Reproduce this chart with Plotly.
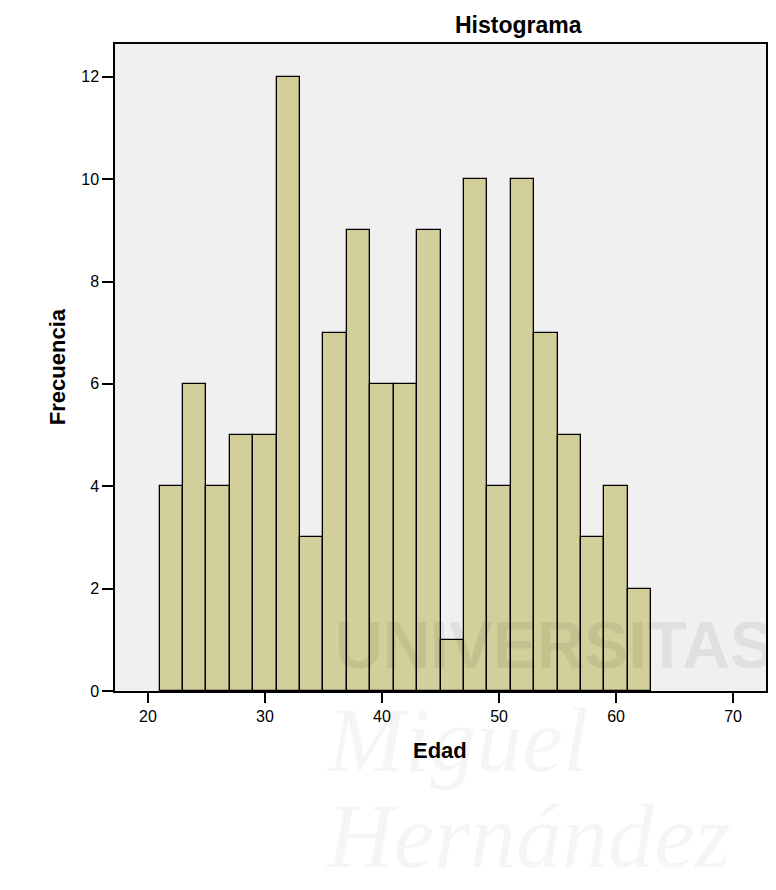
import plotly.graph_objects as go

# Histogram data (Edad), bins of width 2 starting at 21
bin_left = [21, 23, 25, 27, 29, 31, 33, 35, 37, 39, 41, 43, 45, 47, 49, 51, 53, 55, 57, 59, 61]
bin_width = 2
counts = [4, 6, 4, 5, 5, 12, 3, 7, 9, 6, 6, 9, 1, 10, 4, 10, 7, 5, 3, 4, 2]

x_ticks = [20, 30, 40, 50, 60, 70]
y_ticks = [0, 2, 4, 6, 8, 10, 12]

centers = [b + bin_width / 2 for b in bin_left]

fig = go.Figure()
fig.add_trace(go.Bar(
    x=centers, y=counts, width=[bin_width] * len(counts),
    marker=dict(color="#d3cf9a", line=dict(color="#000000", width=1.3)),
    hoverinfo="x+y", showlegend=False,
))

font_main = "Liberation Sans, Arial, sans-serif"

# page has an 8px body margin; compensate so the plot lands where the reference has it
OFF = 8
W, H = 776 - OFF, 890 - OFF
l, r, t, b = 115 - OFF, 8, 44 - OFF, 199
pw, ph = W - l - r, H - t - b

fig.update_layout(
    width=W, height=H,
    margin=dict(l=l, r=r, t=t, b=b),
    paper_bgcolor="#ffffff",
    plot_bgcolor="#f0f0f0",
    bargap=0,
    font=dict(family=font_main, color="#000000"),
    xaxis=dict(
        range=[17.19, 72.81], tickvals=x_ticks, ticktext=[str(v) for v in x_ticks],
        ticks="outside", ticklen=10, tickwidth=1.5, tickcolor="#000",
        showline=True, linecolor="#000", linewidth=1.5, mirror=True,
        showgrid=False, zeroline=False, tickfont=dict(size=16, family=font_main),
    ),
    yaxis=dict(
        range=[0, 12.64], tickvals=y_ticks, ticktext=[str(v) for v in y_ticks],
        ticks="outside", ticklen=11, tickwidth=1.5, tickcolor="#000",
        showline=True, linecolor="#000", linewidth=1.5, mirror=True,
        showgrid=False, zeroline=False, tickfont=dict(size=16, family=font_main),
    ),
)

# annotations placed by page pixel position (reference coordinates)
ann_specs = [
    dict(text="<b>Histograma</b>", px=520, py=25, xanchor="center",
         font=dict(size=23, family=font_main, color="#000")),
    dict(text="<b>Edad</b>", px=441, py=750, xanchor="center",
         font=dict(size=22, family=font_main, color="#000")),
    dict(text="<b>Frecuencia</b>", px=57, py=367, xanchor="center", textangle=-90,
         font=dict(size=22, family=font_main, color="#000")),
    # watermark
    dict(text="<b>UNIVERSITAS</b>", px=334, py=645, xanchor="left",
         font=dict(size=66, family="Liberation Sans Narrow, Arial Narrow, sans-serif",
                   color="rgba(0,0,0,0.065)")),
    dict(text="<i>Miguel</i>", px=325, py=740, xanchor="left",
         font=dict(size=92, family="Liberation Serif, Times New Roman, serif",
                   color="rgba(0,0,0,0.04)")),
    dict(text="<i>Hernández</i>", px=325, py=836, xanchor="left",
         font=dict(size=92, family="Liberation Serif, Times New Roman, serif",
                   color="rgba(0,0,0,0.04)")),
]
anns = []
for s in ann_specs:
    px, py = s.pop("px") - OFF, s.pop("py") - OFF
    s.update(xref="paper", yref="paper", showarrow=False, yanchor="middle",
             x=(px - l) / pw, y=(H - b - py) / ph)
    anns.append(s)
fig.update_layout(annotations=anns)

fig.write_html("out.html")
